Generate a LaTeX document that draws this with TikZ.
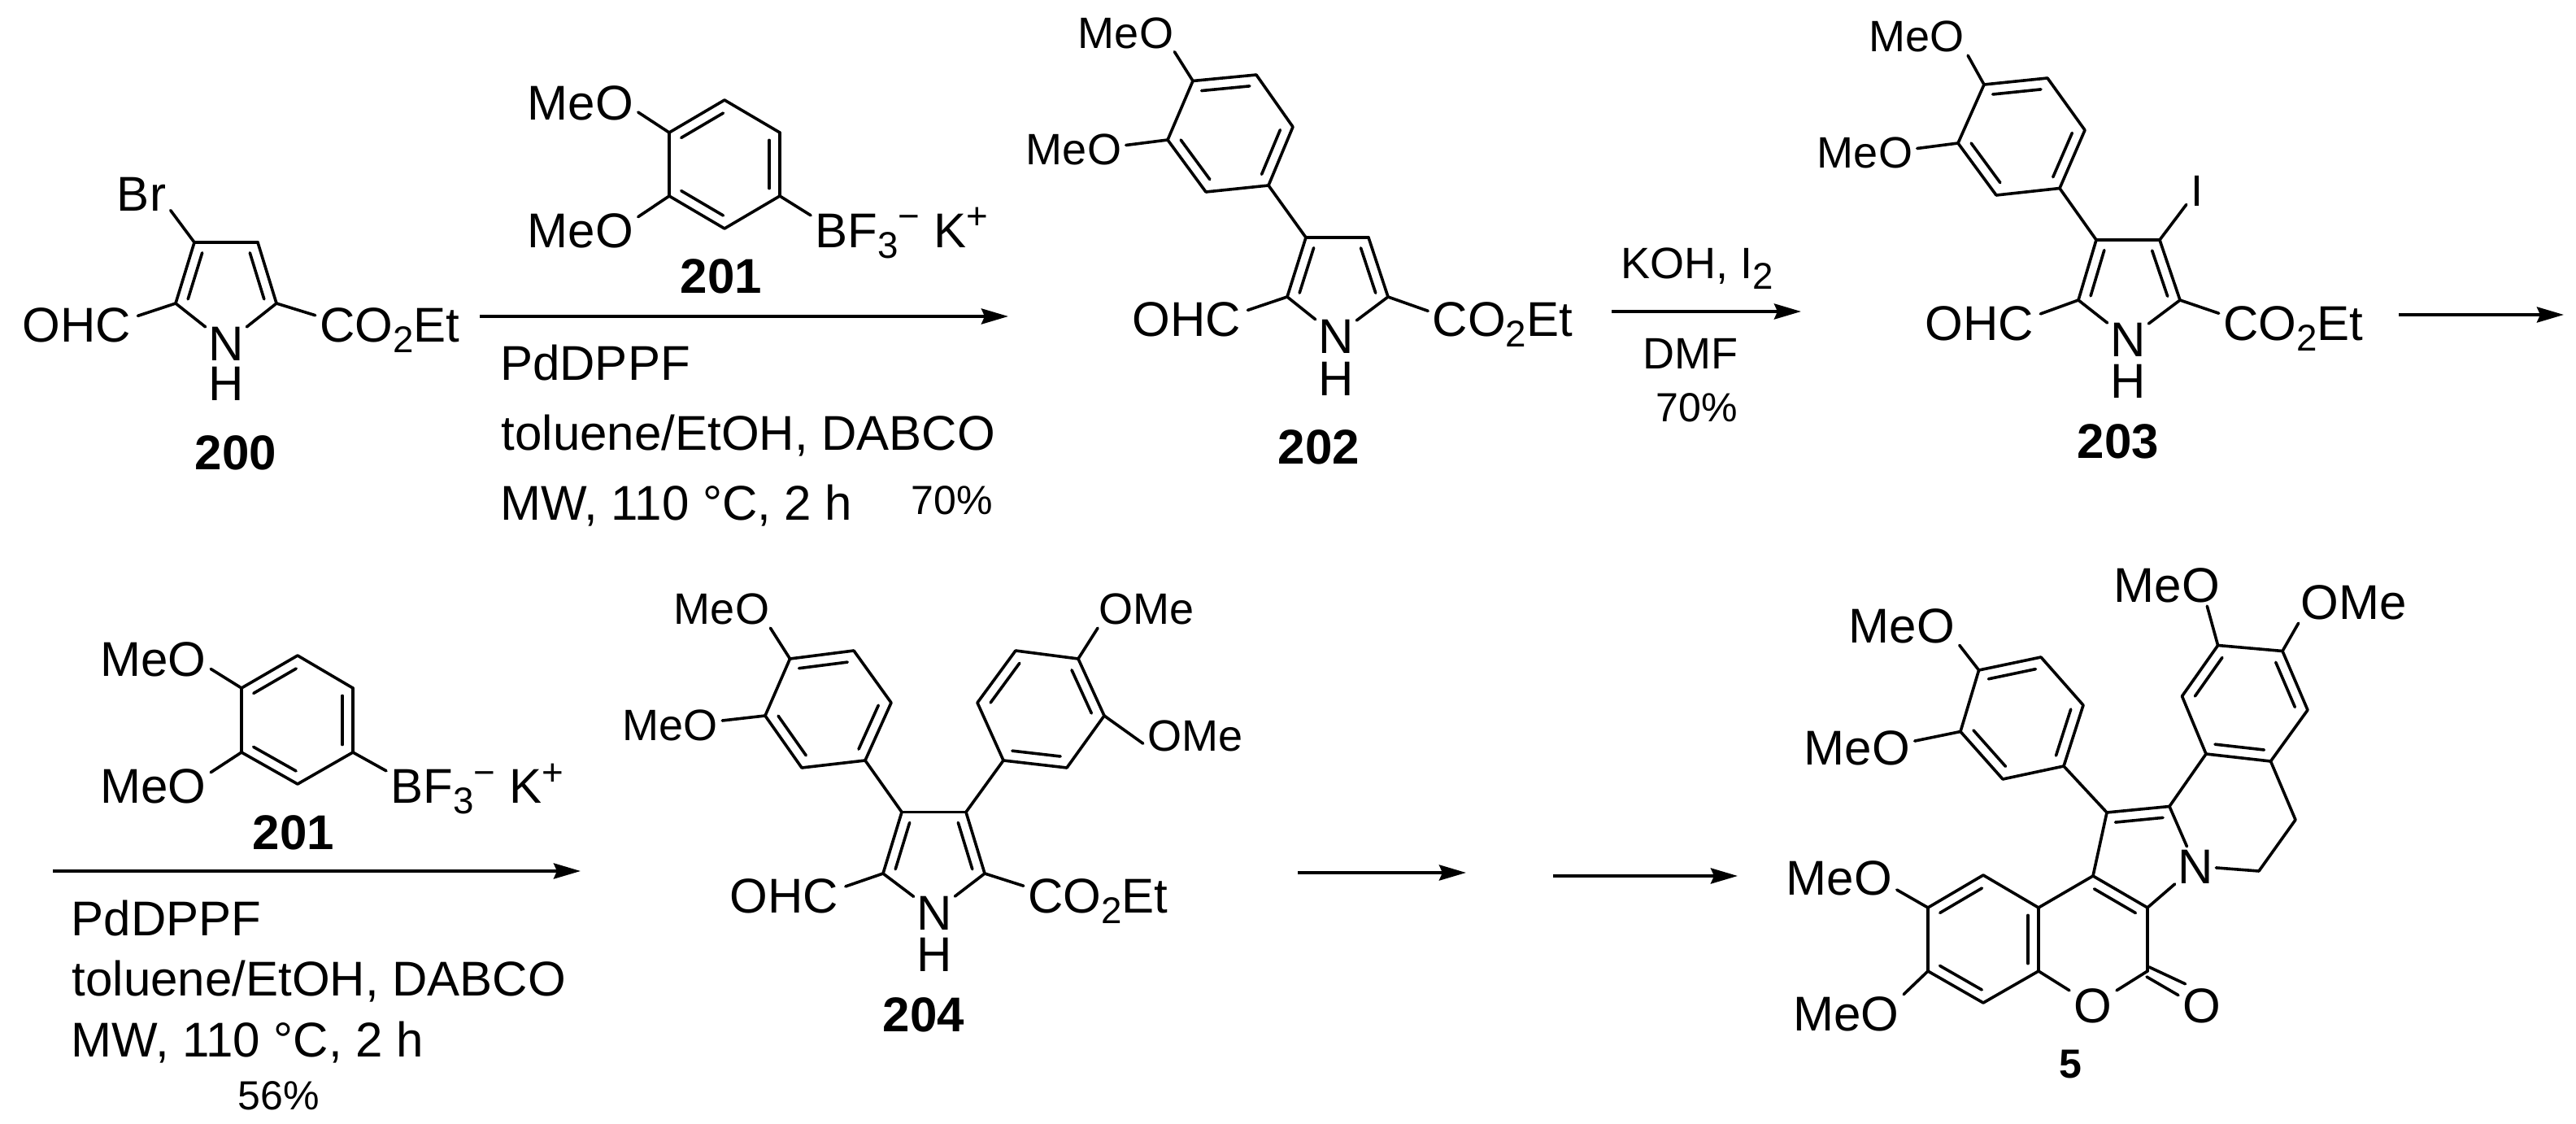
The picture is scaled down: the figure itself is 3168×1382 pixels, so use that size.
\documentclass[tikz,border=0pt]{standalone}
\usepackage{fontspec}
\setmainfont{Liberation Sans}
\usetikzlibrary{arrows.meta,calc}
\newcommand{\chemfont}{\fontsize{17.07}{20}\selectfont}
\newcommand{\smallchem}{\fontsize{15.36}{18}\selectfont}
\newcommand{\yieldfont}{\fontsize{14.23}{17}\selectfont}
\newcommand{\dn}[1]{\raisebox{-.13cm}{\fontsize{13}{15}\selectfont #1}}
\newcommand{\up}[1]{\raisebox{.22cm}{\fontsize{13}{15}\selectfont #1}}
\newcommand{\dbl}[2]{\draw[bond] ($(#1)!.12!(#2)!.13cm!-90:(#2)$) to ($(#2)!.12!(#1)!.13cm!90:(#1)$);}
\tikzset{
  bond/.style={line width=.036cm,line cap=round},
  atom/.style={font=\chemfont,inner xsep=.05cm,inner ysep=.04cm,text height=.43cm,text depth=0cm},
  atomsm/.style={font=\smallchem,inner xsep=.05cm,inner ysep=.04cm,text height=.39cm,text depth=0cm},
  het/.style={atom,inner xsep=.03cm,inner ysep=.02cm},
  hyd/.style={atom,inner sep=0cm},
  ohc/.style={atom,inner xsep=.08cm},
  cpd/.style={font=\chemfont\bfseries,inner sep=0cm,text height=.43cm,text depth=0cm},
  cond/.style={font=\chemfont,inner sep=0cm,anchor=base west},
  condsm/.style={font=\smallchem,inner sep=0cm,anchor=base west},
  yieldtxt/.style={font=\yieldfont,inner sep=0cm,text height=.36cm,text depth=0cm},
  rxn/.style={line width=.04cm,-{Stealth[length=.33cm,width=.19cm,inset=.04cm]}}
}
\begin{document}
\begin{tikzpicture}[x=0.01cm,y=-0.01cm]
  \useasboundingbox (0,0) rectangle (3168,1382);
  % 200
  \draw
    (239,298) coordinate (a1)
    (317,298) coordinate (a2)
    (340,373) coordinate (a3)
    (216,373) coordinate (a4)
    (278,422) node[het] (an){N}
    (278,471) node[hyd] (ah){H}
    (174,238) node[atom] (abr){Br}
    (94,399) node[ohc] (aohc){OHC}
    (479.5,399) node[atom] (aco){CO\dn{2}Et}
    (290,556) node[cpd] (lab200){200};
  % 201, first row
  \draw
    (891,123) coordinate (b1)
    (959,163) coordinate (b2)
    (959,241) coordinate (b3)
    (891,281) coordinate (b4)
    (823,241) coordinate (b5)
    (823,163) coordinate (b6)
    (714,125.5) node[atom] (bo1){MeO}
    (714,283) node[atom] (bo2){MeO}
    (1108.9,282.5) node[atom] (bbf){BF\dn{3}\up{−} K\up{+}}
    (887,339) node[cpd] (lab201a){201};
  % 202
  \draw
    (1606,292) coordinate (c1)
    (1683,292) coordinate (c2)
    (1707,365) coordinate (c3)
    (1583,365) coordinate (c4)
    (1643,413) node[het] (cn){N}
    (1643,465) node[hyd] (ch){H}
    (1459,392) node[ohc] (cohc){OHC}
    (1848,392) node[atom] (cco){CO\dn{2}Et}
    (1545,92) coordinate (d1)
    (1590,156) coordinate (d2)
    (1560,228) coordinate (d3)
    (1483,236) coordinate (d4)
    (1436,172) coordinate (d5)
    (1467,99.5) coordinate (d6)
    (1384.5,39.5) node[atomsm] (do1){MeO}
    (1320.5,183) node[atomsm] (do2){MeO}
    (1622,549) node[cpd] (lab202){202};
  % 203
  \draw
    (2578,295) coordinate (e1)
    (2656,295) coordinate (e2)
    (2681,369) coordinate (e3)
    (2556,369) coordinate (e4)
    (2617,417) node[het] (en){N}
    (2617,468) node[hyd] (eh){H}
    (2434,396.5) node[ohc] (eohc){OHC}
    (2820.5,396.5) node[atom] (eco){CO\dn{2}Et}
    (2702,234) node[atomsm] (ei){I}
    (2518,96) coordinate (f1)
    (2564,160) coordinate (f2)
    (2533,231.5) coordinate (f3)
    (2455,240) coordinate (f4)
    (2408,176) coordinate (f5)
    (2440,104) coordinate (f6)
    (2357,44) node[atomsm] (fo1){MeO}
    (2293.5,187) node[atomsm] (fo2){MeO}
    (2605,542) node[cpd] (lab203){203};
  % 201, second row
  \draw
    (366,806) coordinate (g1)
    (434,846) coordinate (g2)
    (434,925) coordinate (g3)
    (366,964) coordinate (g4)
    (297,925) coordinate (g5)
    (297,846) coordinate (g6)
    (188.5,810) node[atom] (go1){MeO}
    (188.5,966) node[atom] (go2){MeO}
    (586.8,965.5) node[atom] (gbf){BF\dn{3}\up{−} K\up{+}}
    (361,1022.5) node[cpd] (lab201b){201};
  % 204
  \draw
    (1109,998.5) coordinate (h1)
    (1188,998.5) coordinate (h2)
    (1211,1074) coordinate (h3)
    (1086,1074) coordinate (h4)
    (1149,1121.5) node[het] (hn){N}
    (1149,1173) node[hyd] (hh){H}
    (964.5,1100.5) node[ohc] (hohc){OHC}
    (1350.5,1100.5) node[atom] (hco){CO\dn{2}Et}
    (1050,800) coordinate (i1)
    (1096,864) coordinate (i2)
    (1064,935) coordinate (i3)
    (986,944) coordinate (i4)
    (941,880) coordinate (i5)
    (971.5,810) coordinate (i6)
    (887.5,748) node[atomsm] (io1){MeO}
    (824,890.5) node[atomsm] (io2){MeO}
    (1249,800) coordinate (j1)
    (1326,810) coordinate (j2)
    (1358,880) coordinate (j3)
    (1312,944) coordinate (j4)
    (1234,935) coordinate (j5)
    (1202,864) coordinate (j6)
    (1410,748) node[atomsm] (jo1){OMe}
    (1470,904) node[atomsm] (jo2){OMe}
    (1136,1246.5) node[cpd] (lab204){204};
  % 5
  \draw
    (2439,1076) coordinate (k1)
    (2371,1116) coordinate (k2)
    (2371,1194) coordinate (k3)
    (2439,1233) coordinate (k4)
    (2507,1194) coordinate (k5)
    (2507,1116) coordinate (k6)
    (2574,1077) coordinate (k7)
    (2641,1116) coordinate (k8)
    (2641,1194) coordinate (k9)
    (2643,1189) coordinate (k9a)
    (2640,1201) coordinate (k9b)
    (2574,1236) node[atom] (ko){O}
    (2708,1236) node[atom] (kc){O}
    (2262,1079) node[atom] (ko1){MeO}
    (2270.5,1245.5) node[atom] (ko2){MeO}
    (2591,999) coordinate (p1)
    (2668,991.5) coordinate (p2)
    (2700,1065) node[het] (pn){N}
    (2778,1071) coordinate (q1)
    (2823,1008) coordinate (q2)
    (2792.5,936) coordinate (q3)
    (2713,927) coordinate (q4)
    (2683.5,856) coordinate (r1)
    (2727.6,793.5) coordinate (r2)
    (2807,800.5) coordinate (r3)
    (2838,873) coordinate (r4)
    (2665,719) node[atom] (ro1){MeO}
    (2895,740) node[atom] (ro2){OMe}
    (2510,808) coordinate (s1)
    (2562,867) coordinate (s2)
    (2538,942) coordinate (s3)
    (2463,958) coordinate (s4)
    (2411,899.5) coordinate (s5)
    (2433.6,824) coordinate (s6)
    (2339,769) node[atom] (so1){MeO}
    (2284,918.5) node[atom] (so2){MeO}
    (2546.5,1307) node[cpd,font=\yieldfont\bfseries,text height=.36cm] (lab5){5};
  % conditions
  \draw
    (614.5,468) node[cond] (t1){PdDPPF}
    (616,554) node[cond] (t2){toluene/EtOH, DABCO}
    (614.5,639) node[cond] (t3){MW, 110 °C, 2 h}
    (1171,614) node[yieldtxt] (t4){70\%}
    (1993,342.5) node[condsm] (t5){KOH, I\dn{2}}
    (2079,433.5) node[atomsm] (t6){DMF}
    (2086.5,500) node[yieldtxt] (t7){70\%}
    (87,1150.6) node[cond] (t8){PdDPPF}
    (88,1224.5) node[cond] (t9){toluene/EtOH, DABCO}
    (87,1299) node[cond] (t10){MW, 110 °C, 2 h}
    (342.5,1346) node[yieldtxt] (t11){56\%};
  % arrows
  \draw
    (590,389) coordinate (r1a)
    (1240,389) coordinate (r1b)
    (1982,383) coordinate (r2a)
    (2215,383) coordinate (r2b)
    (2950,387) coordinate (r3a)
    (3153,387) coordinate (r3b)
    (65,1071) coordinate (r4a)
    (714,1071) coordinate (r4b)
    (1596,1073) coordinate (r5a)
    (1803,1073) coordinate (r5b)
    (1910,1077) coordinate (r6a)
    (2137,1077) coordinate (r6b);
  \draw[rxn] (r1a) to (r1b);
  \draw[rxn] (r2a) to (r2b);
  \draw[rxn] (r3a) to (r3b);
  \draw[rxn] (r4a) to (r4b);
  \draw[rxn] (r5a) to (r5b);
  \draw[rxn] (r6a) to (r6b);
  \begin{scope}[bond]
    % 200
    \draw (a1) to (a2);
    \draw (a2) to (a3);
    \draw (a3) to (an);
    \draw (an) to (a4);
    \draw (a4) to (a1);
    \draw (a1) to (abr.-30);
    \draw (a4) to (aohc.8.5);
    \draw (a3) to (aco.173);
    \dbl{a4}{a1}
    \dbl{a2}{a3}
    % 201
    \draw (b1) to (b2);
    \draw (b2) to (b3);
    \draw (b3) to (b4);
    \draw (b4) to (b5);
    \draw (b5) to (b6);
    \draw (b6) to (b1);
    \draw (b6) to (bo1.-10);
    \draw (b5) to (bo2.13);
    \draw (b3) to (bbf.171);
    \dbl{b6}{b1}
    \dbl{b2}{b3}
    \dbl{b4}{b5}
    % 202
    \draw (c1) to (c2);
    \draw (c2) to (c3);
    \draw (c3) to (cn);
    \draw (cn) to (c4);
    \draw (c4) to (c1);
    \draw (c4) to (cohc.8);
    \draw (c3) to (cco.174);
    \dbl{c4}{c1}
    \dbl{c2}{c3}
    \draw (d1) to (d2);
    \draw (d2) to (d3);
    \draw (d3) to (d4);
    \draw (d4) to (d5);
    \draw (d5) to (d6);
    \draw (d6) to (d1);
    \draw (d3) to (c1);
    \draw (d6) to (do1.-22.6);
    \draw (d5) to (do2.4.4);
    \dbl{d6}{d1}
    \dbl{d2}{d3}
    \dbl{d4}{d5}
    % 203
    \draw (e1) to (e2);
    \draw (e2) to (e3);
    \draw (e3) to (en);
    \draw (en) to (e4);
    \draw (e4) to (e1);
    \draw (e2) to (ei);
    \draw (e4) to (eohc.8.8);
    \draw (e3) to (eco.173);
    \dbl{e4}{e1}
    \dbl{e2}{e3}
    \draw (f1) to (f2);
    \draw (f2) to (f3);
    \draw (f3) to (f4);
    \draw (f4) to (f5);
    \draw (f5) to (f6);
    \draw (f6) to (f1);
    \draw (f3) to (e1);
    \draw (f6) to (fo1.-21.4);
    \draw (f5) to (fo2.4.4);
    \dbl{f6}{f1}
    \dbl{f2}{f3}
    \dbl{f4}{f5}
    % 201 again
    \draw (g1) to (g2);
    \draw (g2) to (g3);
    \draw (g3) to (g4);
    \draw (g4) to (g5);
    \draw (g5) to (g6);
    \draw (g6) to (g1);
    \draw (g6) to (go1.-10);
    \draw (g5) to (go2.13.5);
    \draw (g3) to (gbf.171);
    \dbl{g6}{g1}
    \dbl{g2}{g3}
    \dbl{g4}{g5}
    % 204
    \draw (h1) to (h2);
    \draw (h2) to (h3);
    \draw (h3) to (hn);
    \draw (hn) to (h4);
    \draw (h4) to (h1);
    \draw (h4) to (hohc.8.6);
    \draw (h3) to (hco.173);
    \dbl{h4}{h1}
    \dbl{h2}{h3}
    \draw (i1) to (i2);
    \draw (i2) to (i3);
    \draw (i3) to (i4);
    \draw (i4) to (i5);
    \draw (i5) to (i6);
    \draw (i6) to (i1);
    \draw (i3) to (h1);
    \draw (i6) to (io1.-22);
    \draw (i5) to (io2.4.4);
    \dbl{i6}{i1}
    \dbl{i2}{i3}
    \dbl{i4}{i5}
    \draw (j1) to (j2);
    \draw (j2) to (j3);
    \draw (j3) to (j4);
    \draw (j4) to (j5);
    \draw (j5) to (j6);
    \draw (j6) to (j1);
    \draw (j5) to (h2);
    \draw (j2) to (jo1.-158);
    \draw (j3) to (jo2.189);
    \dbl{j6}{j1}
    \dbl{j2}{j3}
    \dbl{j4}{j5}
    % 5
    \draw (k1) to (k2);
    \draw (k2) to (k3);
    \draw (k3) to (k4);
    \draw (k4) to (k5);
    \draw (k5) to (k6);
    \draw (k6) to (k1);
    \draw (k6) to (k7);
    \draw (k7) to (k8);
    \draw (k8) to (k9);
    \draw (k9) to (ko);
    \draw (ko) to (k5);
    \draw (k9a) to (kc.128);
    \draw (k9b) to (kc.157);
    \draw (k2) to (ko1.-12.4);
    \draw (k3) to (ko2.18.4);
    \dbl{k2}{k1}
    \dbl{k6}{k5}
    \dbl{k4}{k3}
    \dbl{k7}{k8}
    \draw (k7) to (p1);
    \draw (p1) to (p2);
    \draw (p2) to (pn);
    \draw (pn) to (k8);
    \draw (pn) to (q1);
    \draw (q1) to (q2);
    \draw (q2) to (q3);
    \draw (q3) to (q4);
    \draw (q4) to (p2);
    \dbl{p1}{p2}
    \draw (q4) to (r1);
    \draw (r1) to (r2);
    \draw (r2) to (r3);
    \draw (r3) to (r4);
    \draw (r4) to (q3);
    \draw (r2) to (ro1.-28.9);
    \draw (r3) to (ro2.-159);
    \dbl{r1}{r2}
    \dbl{r3}{r4}
    \dbl{q3}{q4}
    \draw (s1) to (s2);
    \draw (s2) to (s3);
    \draw (s3) to (s4);
    \draw (s4) to (s5);
    \draw (s5) to (s6);
    \draw (s6) to (s1);
    \draw (s3) to (p1);
    \draw (s6) to (so1.-19);
    \draw (s5) to (so2.6);
    \dbl{s6}{s1}
    \dbl{s2}{s3}
    \dbl{s4}{s5}
  \end{scope}
\end{tikzpicture}
\end{document}
